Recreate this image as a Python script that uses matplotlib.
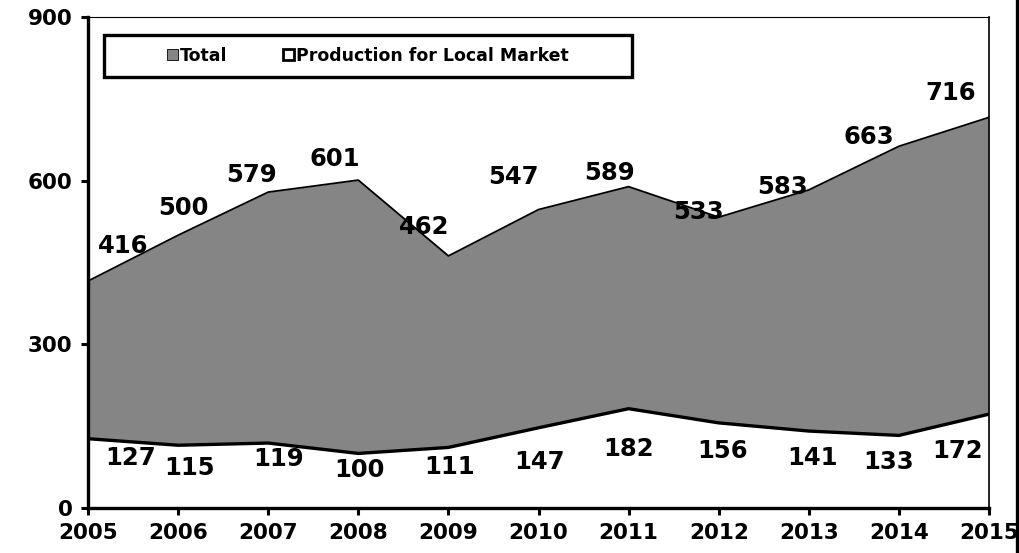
import matplotlib.pyplot as plt
from matplotlib.patches import Patch, Rectangle
from matplotlib.lines import Line2D

years = [2005, 2006, 2007, 2008, 2009, 2010, 2011, 2012, 2013, 2014, 2015]
total = [416, 500, 579, 601, 462, 547, 589, 533, 583, 663, 716]
local_market = [127, 115, 119, 100, 111, 147, 182, 156, 141, 133, 172]

# label offsets in pixels (dx, dy)
total_offsets = [(35, 35), (5, 27), (-17, 17), (-24, 21), (-24, 29), (-25, 33),
                 (-19, 14), (-20, 5), (-26, 3), (-30, 9), (-38, 24)]
local_offsets = [(43, -19), (11, -23), (10, -16), (1, -17), (1, -20), (1, -34),
                 (0, -40), (4, -28), (4, -27), (-10, -27), (-31, -37)]

plt.rcParams['font.family'] = 'DejaVu Sans'
plt.rcParams['font.weight'] = 'bold'

fig = plt.figure(figsize=(10.2, 5.53), dpi=100)
ax = fig.add_axes([0.0863, 0.0814, 0.8833, 0.8879])

gray = '#858585'
ax.fill_between(years, 0, total, color=gray, linewidth=0)
ax.plot(years, total, color='black', linewidth=1.3)
ax.fill_between(years, 0, local_market, color='white', linewidth=0)
ax.plot(years, local_market, color='black', linewidth=2.4)

for x, y, (dx, dy) in zip(years, total, total_offsets):
    ax.annotate(str(y), (x, y), xytext=(dx, dy), textcoords='offset pixels',
                ha='center', va='center', fontsize=17.5, fontweight='bold')
for x, y, (dx, dy) in zip(years, local_market, local_offsets):
    ax.annotate(str(y), (x, y), xytext=(dx, dy), textcoords='offset pixels',
                ha='center', va='center', fontsize=17.5, fontweight='bold')

ax.set_xlim(2005, 2015)
ax.set_ylim(0, 900)
ax.set_xticks(years)
ax.set_yticks([0, 300, 600, 900])
ax.tick_params(axis='both', direction='out', length=5, width=2.2,
               labelsize=15.5, pad=6)
for lbl in ax.get_xticklabels() + ax.get_yticklabels():
    lbl.set_fontweight('bold')

ax.spines['left'].set_linewidth(2.4)
ax.spines['bottom'].set_linewidth(2.4)
ax.spines['top'].set_linewidth(0.8)
ax.spines['right'].set_linewidth(1.2)

# legend box frame
ax.add_patch(Rectangle((0.018, 0.878), 0.586, 0.085, transform=ax.transAxes,
                       facecolor='white', edgecolor='black', linewidth=2.4,
                       zorder=4))
handles = [Patch(facecolor=gray, edgecolor='black', linewidth=0.6),
           Patch(facecolor='white', edgecolor='black', linewidth=2)]
leg = ax.legend(handles, ['Total', 'Production for Local Market'], ncol=2,
                loc='center', bbox_to_anchor=(0.018, 0.878, 0.586, 0.085),
                frameon=False, prop={'weight': 'bold', 'size': 12.5},
                handlelength=0.6, handleheight=0.6, handletextpad=0.15,
                columnspacing=3.2, borderaxespad=0)
leg.set_zorder(5)

fig.add_artist(Line2D([0.997, 0.997], [0, 1], color='black', linewidth=2.4,
                      transform=fig.transFigure))

fig.savefig('out.png', dpi=100)
